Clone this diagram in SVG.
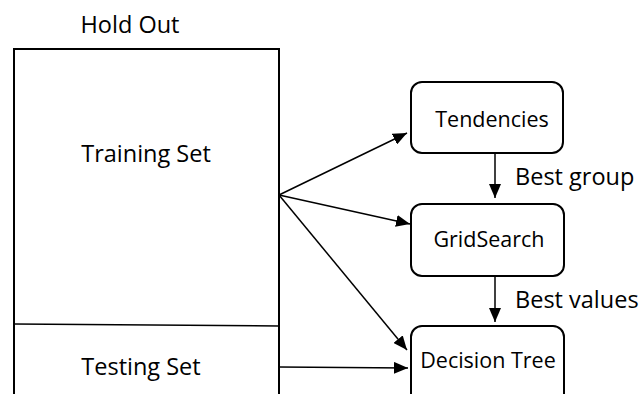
<svg xmlns="http://www.w3.org/2000/svg" width="643" height="394" viewBox="0 0 643 394">
<style>
text{font-family:"Open Sans","Liberation Sans",sans-serif;fill:#000}
.big{font-size:23.5px}
.lbl{font-size:21.5px}
.box{fill:#fff;stroke:#000;stroke-width:2}
.ln{stroke:#000;stroke-width:1.5;fill:none}
</style>
<defs>
<marker id="ah" markerWidth="14" markerHeight="12" refX="14" refY="6" orient="auto" markerUnits="userSpaceOnUse">
<path d="M0,0 L14,6 L0,12 Z" fill="#000"/>
</marker>
</defs>
<rect width="643" height="394" fill="#fff"/>
<g id="holdout">
<text class="big" x="130" y="33" text-anchor="middle">Hold Out</text>
<path d="M14,400 L14,49 L279,49 L279,400" fill="none" stroke="#000" stroke-width="2"/>
<path d="M14,324 L279,326" class="ln"/>
</g>
<g id="training"><text class="big" x="146" y="162" text-anchor="middle">Training Set</text></g>
<g id="testing"><text class="big" x="141" y="375" text-anchor="middle">Testing Set</text></g>
<g id="tendencies"><rect class="box" x="411" y="82" width="152" height="71" rx="11"/><text class="lbl" x="492" y="127" text-anchor="middle">Tendencies</text></g>
<g id="gridsearch"><rect class="box" x="411" y="204" width="153" height="72" rx="11"/><text class="lbl" x="489" y="247" text-anchor="middle">GridSearch</text></g>
<g id="decisiontree"><rect class="box" x="411" y="326" width="153" height="80" rx="11"/><text class="lbl" x="488" y="368" text-anchor="middle">Decision Tree</text></g>
<g id="connectors">
<line class="ln" x1="279" y1="195" x2="407" y2="133" marker-end="url(#ah)"/>
<line class="ln" x1="279" y1="195" x2="410" y2="224" marker-end="url(#ah)"/>
<line class="ln" x1="279" y1="195" x2="407" y2="350" marker-end="url(#ah)"/>
<line class="ln" x1="279" y1="367" x2="408" y2="368" marker-end="url(#ah)"/>
<line class="ln" x1="495" y1="153" x2="495" y2="198" marker-end="url(#ah)"/>
<line class="ln" x1="495" y1="276" x2="495" y2="322" marker-end="url(#ah)"/>
<text class="big" x="515" y="185">Best group</text>
<text class="big" x="515" y="308">Best values</text>
</g>
</svg>
